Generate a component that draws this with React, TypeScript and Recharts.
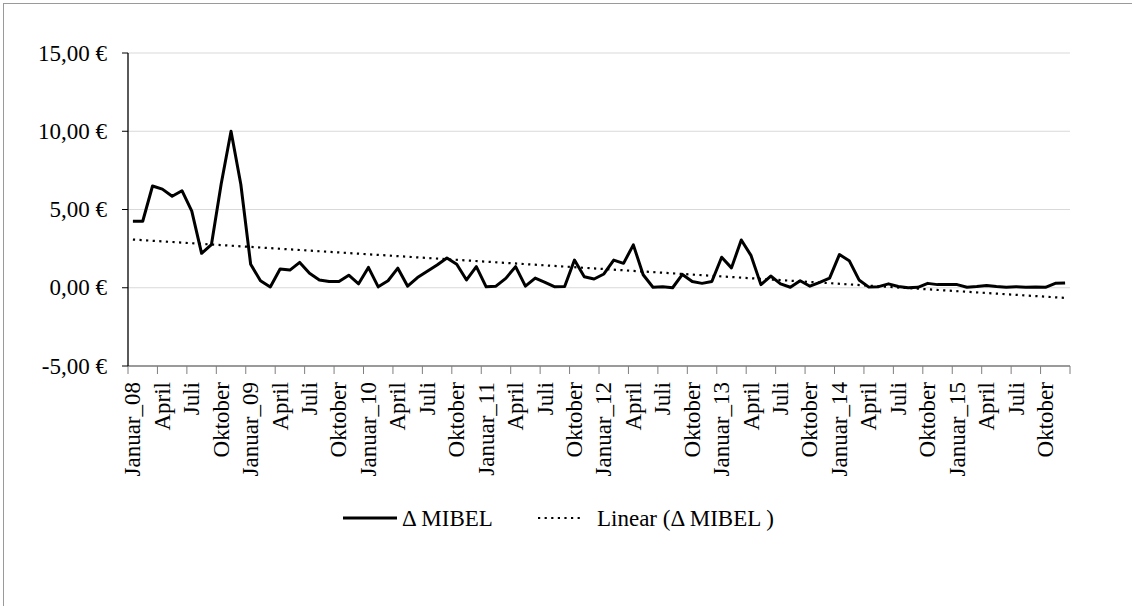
import React from "react";
import { LineChart, Line, XAxis, YAxis, CartesianGrid } from "recharts";

const YEARS = ["08", "09", "10", "11", "12", "13", "14", "15"];
const QUARTER_NAMES = ["April", "Juli", "Oktober"];
const TICK_LABELS: string[] = YEARS.flatMap((y) => ["Januar_" + y, ...QUARTER_NAMES]);

const MIBEL: number[] = [
  4.25, 4.25, 6.5, 6.3, 5.85, 6.2, 4.9, 2.2, 2.75, 6.65, 10.0, 6.6,
  1.5, 0.45, 0.05, 1.2, 1.13, 1.62, 0.92, 0.5, 0.4, 0.4, 0.8, 0.25,
  1.3, 0.06, 0.45, 1.25, 0.1, 0.65, 1.05, 1.45, 1.9, 1.5, 0.5, 1.35,
  0.06, 0.1, 0.6, 1.35, 0.1, 0.62, 0.35, 0.06, 0.08, 1.77, 0.7, 0.56,
  0.88, 1.77, 1.56, 2.74, 0.83, 0.03, 0.06, 0.0, 0.85, 0.4, 0.28, 0.4,
  1.95, 1.27, 3.05, 2.05, 0.2, 0.75, 0.25, 0.03, 0.45, 0.1, 0.35, 0.62,
  2.12, 1.73, 0.5, 0.04, 0.07, 0.25, 0.08, 0.0, 0.03, 0.28, 0.2, 0.2,
  0.2, 0.03, 0.08, 0.15, 0.08, 0.03, 0.07, 0.03, 0.04, 0.03, 0.28, 0.3,
];

// Linear trendline endpoints
const TREND_START = 3.08;
const TREND_END = -0.65;

const Y_TICKS = [-5, 0, 5, 10, 15];

const N = MIBEL.length;
const data = MIBEL.map((v, i) => ({
  i,
  v,
  t: i === 0 ? TREND_START : i === N - 1 ? TREND_END : undefined,
}));

const X_BOUNDARIES: number[] = [];
for (let k = 0; k <= N / 3; k++) X_BOUNDARIES.push(k * 3 - 0.5);

const W = 1132;
const H = 606;
const M_LEFT = 0;
const Y_W = 128;
const M_RIGHT = 62;
const PLOT_W = W - M_LEFT - Y_W - M_RIGHT;
const STEP = PLOT_W / N;

const FONT = "Liberation Serif, Times New Roman, DejaVu Serif, serif";
const FS = 23;
const TXT: React.CSSProperties = { fontFamily: FONT, fontSize: FS };

const fmt = (v: number) => v.toFixed(2).replace(".", ",") + " €";

const XTick = (props: any) => {
  const { x, y, payload } = props;
  const k = Math.round((payload.value + 0.5) / 3);
  if (k >= TICK_LABELS.length) return <g />;
  const cx = x + STEP / 2;
  return (
    <text
      transform={`translate(${cx},${y}) rotate(-90)`}
      textAnchor="end"
      dominantBaseline="central"
      style={TXT}
      fill="#000"
    >
      {TICK_LABELS[k]}
    </text>
  );
};

const YTick = (props: any) => {
  const { x, y, payload } = props;
  return (
    <text x={x} y={y} textAnchor="end" dominantBaseline="central" style={TXT} fill="#000">
      {fmt(payload.value)}
    </text>
  );
};

const Legend = () => (
  <svg width={W} height={40} style={{ position: "absolute", left: 0, top: 498 }}>
    <line x1={343} y1={20} x2={397} y2={20} stroke="#000" strokeWidth={3} />
    <text x={402} y={20} dominantBaseline="central" style={TXT} fill="#000">
      Δ MIBEL
    </text>
    <line
      x1={538}
      y1={20}
      x2={582}
      y2={20}
      stroke="#000"
      strokeWidth={2.2}
      strokeDasharray="2.2 4.4"
    />
    <text x={597} y={20} dominantBaseline="central" style={TXT} fill="#000">
      Linear (Δ MIBEL )
    </text>
  </svg>
);

export default function App() {
  return (
    <div
      style={{
        position: "absolute",
        left: 0,
        top: 0,
        width: W,
        height: H,
        overflow: "hidden",
        background: "#fff",
        fontFamily: FONT,
      }}
    >
      <div
        style={{
          position: "absolute",
          left: 3,
          top: 3,
          width: 1300,
          height: 800,
          border: "1.5px solid #9a9a9a",
        }}
      />
      <div style={{ position: "absolute", left: 0, top: 0 }}>
        <LineChart
          width={W}
          height={H}
          data={data}
          margin={{ top: 53, right: M_RIGHT, bottom: 120, left: M_LEFT }}
        >
          <CartesianGrid vertical={false} stroke="#d9d9d9" strokeWidth={1} />
          <XAxis
            dataKey="i"
            type="number"
            domain={[-0.5, N - 0.5]}
            ticks={X_BOUNDARIES}
            interval={0}
            height={120}
            tickSize={8}
            tickMargin={8}
            stroke="#7f7f7f"
            tickLine={{ stroke: "#7f7f7f" }}
            axisLine={{ stroke: "#7f7f7f", strokeWidth: 1.3 }}
            tick={<XTick />}
            allowDataOverflow
          />
          <YAxis
            type="number"
            domain={[-5, 15]}
            ticks={Y_TICKS}
            interval={0}
            width={Y_W}
            tickSize={6}
            tickMargin={15}
            axisLine={{ stroke: "#000", strokeWidth: 1.3 }}
            tickLine={{ stroke: "#000" }}
            tick={<YTick />}
          />
          <Line
            dataKey="t"
            type="linear"
            stroke="#000"
            strokeWidth={2.2}
            strokeDasharray="2.2 4.4"
            dot={false}
            connectNulls
            isAnimationActive={false}
          />
          <Line
            dataKey="v"
            type="linear"
            stroke="#000"
            strokeWidth={3}
            strokeLinejoin="round"
            dot={false}
            isAnimationActive={false}
          />
        </LineChart>
      </div>
      <Legend />
    </div>
  );
}
